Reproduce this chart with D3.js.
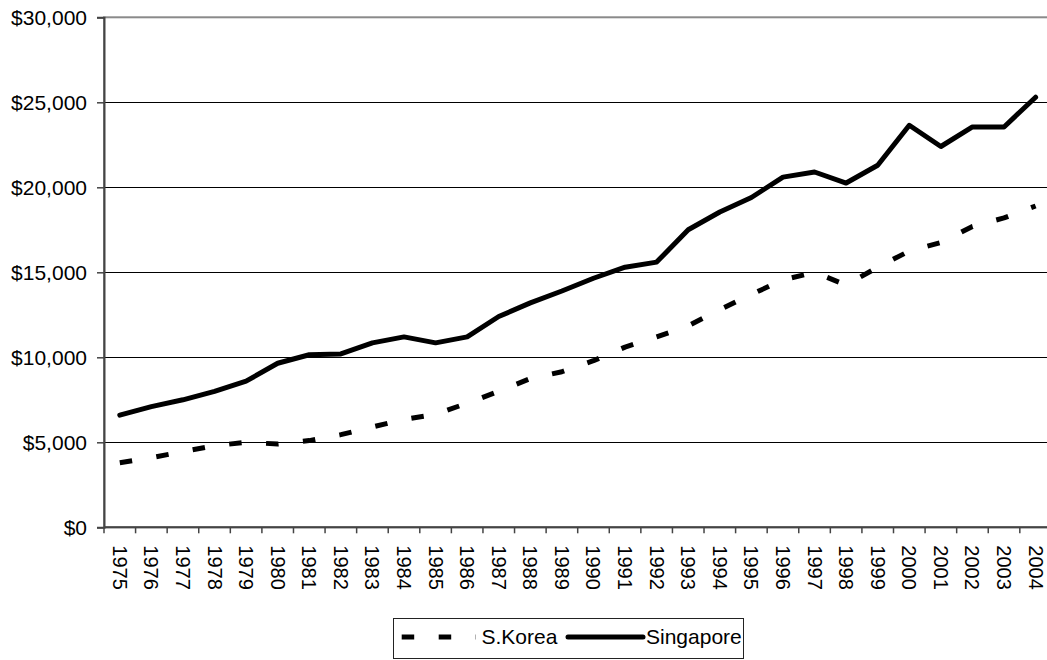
<!DOCTYPE html>
<html>
<head>
<meta charset="utf-8">
<script src="https://cdn.jsdelivr.net/npm/d3@7"></script>
<style>
  html, body { margin: 0; padding: 0; background: #fff; overflow: hidden; }
  svg { display: block; font-family: "Liberation Sans", Arial, sans-serif; }
</style>
</head>
<body>
<svg id="chart" width="1047" height="660"></svg>
<script>
// ---- data ----
const years = ["1975","1976","1977","1978","1979","1980","1981","1982","1983","1984",
               "1985","1986","1987","1988","1989","1990","1991","1992","1993","1994",
               "1995","1996","1997","1998","1999","2000","2001","2002","2003","2004"];
const korea = [3800, 4100, 4450, 4800, 5000, 4900, 5100, 5450, 5900, 6350,
               6650, 7300, 8000, 8750, 9150, 9800, 10600, 11200, 11850, 12800,
               13700, 14550, 15000, 14250, 15300, 16250, 16750, 17700, 18200, 18900];
const singapore = [6600, 7100, 7500, 8000, 8600, 9650, 10150, 10200, 10850, 11200,
                   10850, 11200, 12400, 13200, 13900, 14650, 15300, 15600, 17500, 18550,
                   19400, 20600, 20900, 20250, 21300, 23650, 22400, 23550, 23550, 25300];
const yTicks = [0, 5000, 10000, 15000, 20000, 25000, 30000];
const seriesNames = ["S.Korea", "Singapore"];

(function () {
// ---- layout ----
const svg = d3.select("#chart");
const pL = 104, pR = 1051.4, pT = 17.3, pB = 527.3;

const x = d3.scaleBand().domain(years).range([pL, pR]).padding(0);
const y = d3.scaleLinear().domain([0, 30000]).range([pB, pT]);
const cx = d => x(d) + x.bandwidth() / 2;

// plot area border (gray)
svg.append("rect")
  .attr("x", pL).attr("y", pT)
  .attr("width", pR - pL).attr("height", pB - pT)
  .attr("fill", "none").attr("stroke", "#8a8a8a").attr("stroke-width", 2);

// gridlines
svg.append("g").selectAll("line")
  .data(yTicks.filter(v => v > 0 && v < 30000))
  .join("line")
  .attr("x1", pL).attr("x2", pR)
  .attr("y1", d => Math.round(y(d)) + 0.5).attr("y2", d => Math.round(y(d)) + 0.5)
  .attr("stroke", "#000").attr("stroke-width", 1);

// y axis
const fmt = d => "$" + d3.format(",")(d);
const yAxis = svg.append("g")
  .attr("transform", `translate(${pL},0)`)
  .call(d3.axisLeft(y).tickValues(yTicks).tickFormat(fmt).tickSize(7).tickPadding(10));
yAxis.select(".domain").attr("stroke", "#444").attr("stroke-width", 2);
yAxis.selectAll(".tick line").attr("stroke", "#444").attr("stroke-width", 1.5);
yAxis.selectAll(".tick text")
  .attr("font-size", 21).attr("fill", "#000")
  .attr("font-family", "'Liberation Sans', Arial, sans-serif");

// x axis line
svg.append("line")
  .attr("x1", pL).attr("x2", pR)
  .attr("y1", pB).attr("y2", pB)
  .attr("stroke", "#444").attr("stroke-width", 2);

// x tick marks at category boundaries
svg.append("g").selectAll("line")
  .data(years.concat(["__end"]))
  .join("line")
  .attr("x1", d => d === "__end" ? pR : x(d))
  .attr("x2", d => d === "__end" ? pR : x(d))
  .attr("y1", pB).attr("y2", pB + 6)
  .attr("stroke", "#444").attr("stroke-width", 1.5);

// x labels rotated
svg.append("g").selectAll("text")
  .data(years)
  .join("text")
  .attr("transform", d => `translate(${cx(d)},${pB + 18}) rotate(90)`)
  .attr("text-anchor", "start")
  .attr("dy", "0.35em")
  .attr("font-size", 20)
  .attr("fill", "#000")
  .text(d => d);

// lines
const line = d3.line().x((d, i) => cx(years[i])).y(d => y(d));

svg.append("path")
  .datum(korea)
  .attr("d", line)
  .attr("fill", "none")
  .attr("stroke", "#000")
  .attr("stroke-width", 5)
  .attr("stroke-dasharray", "12.5,24.5")
  .attr("stroke-linecap", "butt")
  .attr("stroke-linejoin", "round");

svg.append("path")
  .datum(singapore)
  .attr("d", line)
  .attr("fill", "none")
  .attr("stroke", "#000")
  .attr("stroke-width", 5)
  .attr("stroke-linecap", "round")
  .attr("stroke-linejoin", "round");

// legend
const lg = svg.append("g");
lg.append("rect")
  .attr("x", 393.5).attr("y", 618.5).attr("width", 350).attr("height", 40)
  .attr("fill", "#fff").attr("stroke", "#222").attr("stroke-width", 1);

const ly = 637;
lg.append("line")
  .attr("x1", 401.7).attr("x2", 476).attr("y1", ly).attr("y2", ly)
  .attr("stroke", "#000").attr("stroke-width", 5)
  .attr("stroke-dasharray", "12.5,24.5");
lg.append("text")
  .attr("x", 481.5).attr("y", ly).attr("dy", "0.35em")
  .attr("font-size", 21).attr("fill", "#000")
  .text(seriesNames[0]);

lg.append("line")
  .attr("x1", 568).attr("x2", 643).attr("y1", ly).attr("y2", ly)
  .attr("stroke", "#000").attr("stroke-width", 5)
  .attr("stroke-linecap", "round");
lg.append("text")
  .attr("x", 646).attr("y", ly).attr("dy", "0.35em")
  .attr("font-size", 21).attr("fill", "#000")
  .text(seriesNames[1]);
})();
</script>
</body>
</html>
